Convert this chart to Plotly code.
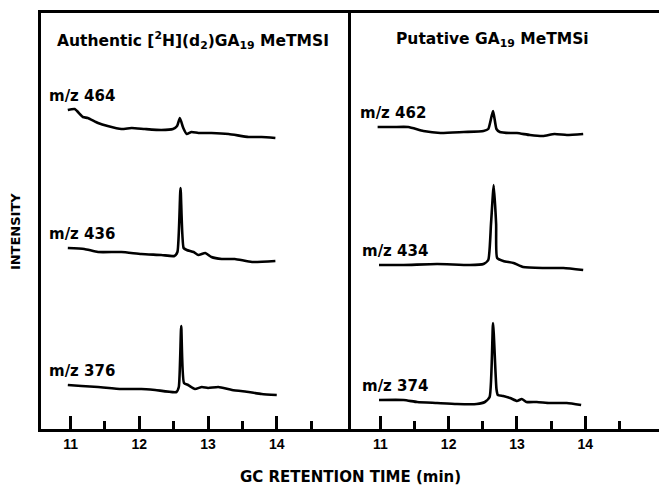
import plotly.graph_objects as go

# ---- data (retention time in min, intensity in arbitrary stacked units) ----
t_a464 = [10.96, 11.06, 11.18, 11.25, 11.40, 11.54, 11.74, 11.89, 12.08, 12.32, 12.49, 12.55, 12.59, 12.64, 12.69, 12.76, 12.86, 13.05, 13.30, 13.59, 13.78, 13.98]
i_a464 = [319, 320, 312, 311, 306, 303, 300, 301, 300, 299, 300, 303, 311, 301, 295, 297, 296, 296, 295, 292, 292, 291]

t_a436 = [10.96, 11.20, 11.40, 11.74, 12.03, 12.32, 12.51, 12.555, 12.60, 12.645, 12.69, 12.79, 12.86, 12.96, 13.05, 13.20, 13.39, 13.64, 13.98]
i_a436 = [181, 180, 177, 177, 175, 174, 173, 177, 241, 181, 179, 177, 174, 176, 172, 170, 170, 167, 168]

t_a376 = [10.96, 11.16, 11.40, 11.74, 12.03, 12.23, 12.54, 12.575, 12.61, 12.65, 12.71, 12.81, 12.91, 13.00, 13.15, 13.35, 13.59, 13.78, 14.00]
i_a376 = [44, 43, 42, 40, 40, 39, 37, 42, 103, 46, 44, 40, 42, 41, 42, 39, 37, 35, 34]

t_p462 = [10.96, 11.19, 11.41, 11.63, 11.88, 12.22, 12.51, 12.58, 12.65, 12.70, 12.75, 12.90, 13.00, 13.19, 13.38, 13.55, 13.73, 13.97]
i_p462 = [302, 302, 302, 298, 296, 297, 298, 300, 318, 300, 297, 296, 296, 294, 293, 295, 294, 295]

t_p434 = [10.98, 11.34, 11.83, 12.31, 12.51, 12.58, 12.62, 12.66, 12.695, 12.71, 12.80, 12.95, 13.09, 13.38, 13.68, 13.97]
i_p434 = [164, 164, 165, 164, 165, 169, 205, 244, 205, 171, 168, 166, 162, 161, 161, 159]

t_p374 = [10.98, 11.34, 11.54, 11.83, 12.12, 12.41, 12.53, 12.60, 12.65, 12.70, 12.72, 12.80, 12.90, 13.00, 13.07, 13.14, 13.29, 13.48, 13.73, 13.94]
i_p374 = [29, 29, 27, 26, 25, 25, 27, 32, 106, 40, 34, 33, 31, 28, 30, 27, 27, 26, 26, 24]

ion_labels_left = ["m/z 464", "m/z 436", "m/z 376"]
ion_labels_right = ["m/z 462", "m/z 434", "m/z 374"]
panel_titles = ["Authentic [<sup>2</sup>H](d<sub>2</sub>)GA<sub>19</sub> MeTMSI",
                "Putative GA<sub>19</sub> MeTMSi"]
major_ticks = [11, 12, 13, 14]
minor_ticks = [11.5, 12.5, 13.5, 14.5]
x_title = "GC RETENTION TIME (min)"
y_title = "INTENSITY"

BOLD = "DejaVu Sans"
TICKFONT = "Liberation Sans"

fig = go.Figure()

left = [(t_a464, i_a464), (t_a436, i_a436), (t_a376, i_a376)]
right = [(t_p462, i_p462), (t_p434, i_p434), (t_p374, i_p374)]

line_style = dict(color="black", width=2.6, shape="spline", smoothing=0.5)
for (t, y) in left:
    fig.add_trace(go.Scatter(x=t, y=y, mode="lines", xaxis="x", yaxis="y",
                             line=line_style, showlegend=False))
for (t, y) in right:
    fig.add_trace(go.Scatter(x=t, y=y, mode="lines", xaxis="x2", yaxis="y2",
                             line=line_style, showlegend=False))

annotations = []
for (t, y), lab in zip(left, ion_labels_left):
    annotations.append(dict(x=t[0] - 0.3, y=y[0] + 14, xref="x", yref="y", text="<b>" + lab + "</b>",
                            showarrow=False, xanchor="left", yanchor="middle",
                            font=dict(family=BOLD, size=15, color="black")))
for (t, y), lab in zip(right, ion_labels_right):
    annotations.append(dict(x=t[0] - 0.28, y=y[0] + 14, xref="x2", yref="y2", text="<b>" + lab + "</b>",
                            showarrow=False, xanchor="left", yanchor="middle",
                            font=dict(family=BOLD, size=15, color="black")))

annotations.append(dict(x=0.246, y=0.935, xref="paper", yref="paper", text="<b>" + panel_titles[0] + "</b>",
                        showarrow=False, xanchor="center", yanchor="middle",
                        font=dict(family=BOLD, size=15.5, color="black")))
annotations.append(dict(x=0.731, y=0.935, xref="paper", yref="paper", text="<b>" + panel_titles[1] + "</b>",
                        showarrow=False, xanchor="center", yanchor="middle",
                        font=dict(family=BOLD, size=15.5, color="black")))
annotations.append(dict(x=0.5016, y=-0.115, xref="paper", yref="paper", text="<b>" + x_title + "</b>",
                        showarrow=False, xanchor="center", yanchor="middle",
                        font=dict(family=BOLD, size=15, color="black")))
annotations.append(dict(x=-0.04, y=0.474, xref="paper", yref="paper", text="<b>" + y_title + "</b>",
                        showarrow=False, xanchor="center", yanchor="middle", textangle=-90,
                        font=dict(family=BOLD, size=13, color="black")))

xaxis_common = dict(range=[10.57, 15.08], showline=True, linecolor="black", linewidth=2.5,
                    mirror=True, showgrid=False, zeroline=False,
                    tickmode="array", tickvals=major_ticks, ticktext=[str(v) for v in major_ticks],
                    ticks="inside", ticklen=13, tickwidth=2.5, tickcolor="black",
                    minor=dict(tickvals=minor_ticks, ticks="inside", ticklen=8, tickwidth=2.5,
                               tickcolor="black", showgrid=False),
                    tickfont=dict(family=TICKFONT, size=14, color="black", weight="bold"))
yaxis_common = dict(range=[0, 416], showline=True, linecolor="black", linewidth=2.5,
                    mirror=False, showgrid=False, zeroline=False, showticklabels=False, ticks="")

fig.update_layout(
    width=659, height=485,
    margin=dict(l=41, r=0, t=13, b=56),
    plot_bgcolor="white", paper_bgcolor="white",
    xaxis=dict(domain=[0, 0.5016], anchor="y", **xaxis_common),
    xaxis2=dict(domain=[0.5016, 1.0], anchor="y2", **xaxis_common),
    yaxis=dict(domain=[0, 1], anchor="x", **yaxis_common),
    yaxis2=dict(domain=[0, 1], anchor="x2", **yaxis_common),
    annotations=annotations,
    showlegend=False,
)

fig.write_html("out.html", config={"displayModeBar": False},
               post_script="document.body.style.margin='0';document.body.style.overflow='hidden';")
